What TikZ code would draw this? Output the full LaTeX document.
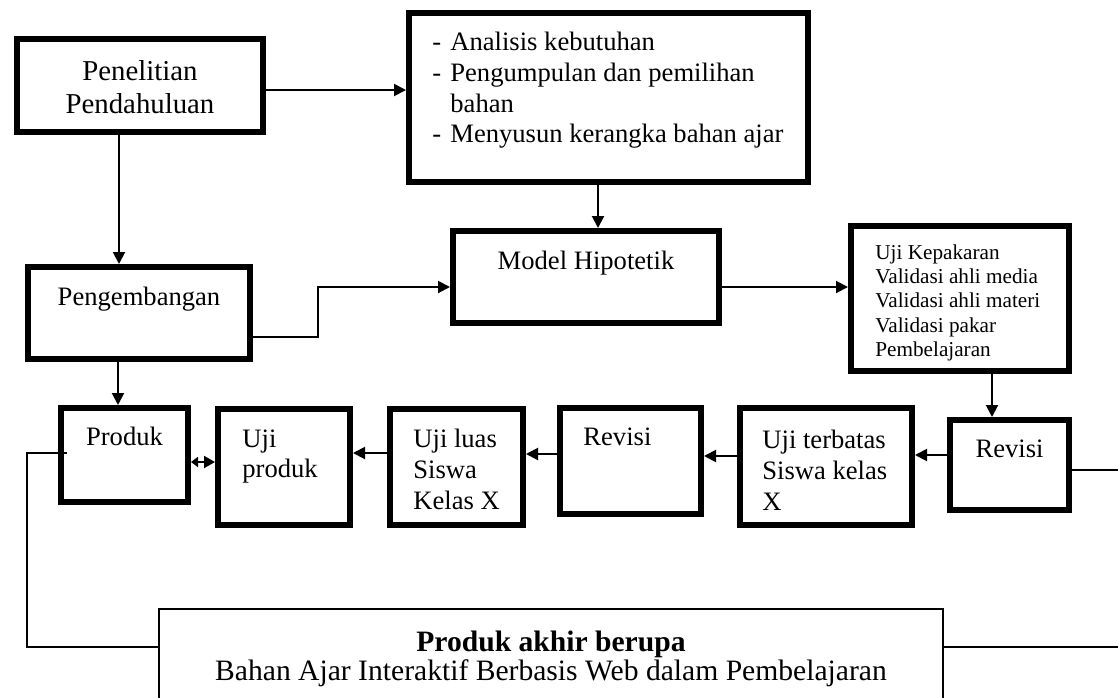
\documentclass[tikz,border=0pt]{standalone}
\usepackage{fontspec}
\setmainfont{Liberation Serif}
\usetikzlibrary{arrows.meta,positioning,calc}

\newcommand{\fsbig}{\fontsize{14.4}{16.6}\selectfont}
\newcommand{\fsmid}{\fontsize{13.3}{15.3}\selectfont}
\newcommand{\fssmall}{\fontsize{10.6}{12.2}\selectfont}
\newcommand{\fsfin}{\fontsize{14.8}{14.5}\selectfont}
\newcommand{\itm}[1]{\makebox[9pt][l]{-}#1}

\begin{document}
\begin{tikzpicture}
    [
    x=0.5pt, y=-0.5pt,
    box/.style={draw, line width=3pt, anchor=north west, inner sep=0pt, outer sep=0pt},
    txt/.style={inner sep=0pt, align=left, font=\fsmid},
    line/.style={line width=1pt},
    arr/.style={line, -{Triangle[length=6pt,width=6pt]}, shorten >=1.5pt}
    ]
    \clip (0,0) rectangle (1118,697);

    % boxes
    \node (pp) [box, minimum width=123pt, minimum height=46.5pt] at (17,39) {};
    \node (an) [box, minimum width=199.5pt, minimum height=84.5pt] at (409,13) {};
    \node (mh) [box, minimum width=133pt, minimum height=46pt] at (453,231) {};
    \node (pg) [box, minimum width=111pt, minimum height=46pt] at (28,267) {};
    \node (uk) [box, minimum width=109pt, minimum height=72.5pt] at (851,226) {};
    \node (rv2) [box, minimum width=59.5pt, minimum height=45pt] at (950,420) {};
    \node (ut) [box, minimum width=86pt, minimum height=58.5pt] at (740,408) {};
    \node (rv1) [box, minimum width=70.5pt, minimum height=53pt] at (560,408) {};
    \node (ul) [box, minimum width=66.5pt, minimum height=58pt] at (390,409) {};
    \node (up) [box, minimum width=66pt, minimum height=58pt] at (218,409) {};
    \node (pr) [box, minimum width=63.5pt, minimum height=47pt] at (61,408) {};
    \node (fin) [box, line width=1pt, minimum width=392pt, minimum height=100pt] at (159,609) {};

    % texts
    \node (ppt) [txt, align=center, font=\fsbig, below=10.5pt of pp.north] {Penelitian\\Pendahuluan};
    \node (ant) [txt, below right=9.5pt and 11.5pt of an.north west]
        {\itm{Analisis kebutuhan}\\ \itm{Pengumpulan dan pemilihan}\\ \hspace*{9pt}bahan\\ \itm{Menyusun kerangka bahan ajar}};
    \node (mht) [txt, below=10pt of mh.north] {Model Hipotetik};
    \node (pgt) [txt, below=10pt of pg.north] {Pengembangan};
    \node (ukt) [txt, font=\fssmall, below right=9pt and 12pt of uk.north west]
        {Uji Kepakaran\\Validasi ahli media\\Validasi ahli materi\\Validasi pakar\\Pembelajaran};
    \node (rv2t) [txt, below=9.5pt of rv2.north] {Revisi};
    \node (utt) [txt, below right=11pt and 11pt of ut.north west] {Uji terbatas\\Siswa kelas\\X};
    \node (rv1t) [txt, below right=9.5pt and 11.5pt of rv1.north west] {Revisi};
    \node (ult) [txt, below right=10pt and 11.5pt of ul.north west] {Uji luas\\Siswa\\Kelas X};
    \node (upt) [txt, below right=10pt and 12pt of up.north west] {Uji\\produk};
    \node (prt) [txt, below=9.5pt of pr.north] {Produk};
    \node (fint) [txt, align=center, font=\fsfin, below=11pt of fin.north]
        {\textbf{Produk akhir berupa}\\Bahan Ajar Interaktif Berbasis Web dalam Pembelajaran};

    % connectors
    \draw [arr] ($(pp.east)+(0,4.5)$) coordinate (c1) -- (c1 -| an.west);
    \draw [arr] ($(pp.south)+(-21,0)$) coordinate (c2) -- (c2 |- pg.north);
    \draw [arr] ($(an.south)+(-10.5,0)$) coordinate (c3) -- (c3 |- mh.north);
    \draw [arr] ($(pg.east)+(0,24)$) -- ++(68,0) |- ($(mh.west)+(0,10)$);
    \draw [arr] ($(mh.east)+(0,10)$) coordinate (c4) -- (c4 -| uk.west);
    \draw [arr] ($(uk.south)+(32,0)$) coordinate (c5) -- (c5 |- rv2.north);
    \draw [arr] ($(rv2.west)+(0,-10)$) coordinate (c6) -- (c6 -| ut.east);
    \draw [arr] ($(ut.west)+(0,-10.5)$) coordinate (c7) -- (c7 -| rv1.east);
    \draw [arr] ($(rv1.west)+(0,-7)$) coordinate (c8) -- (c8 -| ul.east);
    \draw [arr] ($(ul.west)+(0,-14)$) coordinate (c9) -- (c9 -| up.east);
    \draw [arr, {Triangle[length=3.5pt,width=5pt]}-{Triangle[length=5.5pt,width=6pt]}, shorten <=1.5pt]
        ($(pr.east)+(0,7)$) coordinate (c10) -- (c10 -| up.west);
    \draw [arr] ($(pg.south)+(-21,0)$) coordinate (c11) -- (c11 |- pr.north);

    % loop to the final product
    \coordinate (re1) at (1118,470);
    \coordinate (re2) at (1118,647);
    \draw [line] ($(pr.west)+(6,-2)$) -- ++(-40,0) |- ($(fin.north west)+(0,38)$);
    \draw [line] ($(rv2.east)+(0,5)$) coordinate (c12) -- (c12 -| re1);
    \draw [line] ($(fin.north east)+(0,38)$) -- (re2);

\end{tikzpicture}
\end{document}
